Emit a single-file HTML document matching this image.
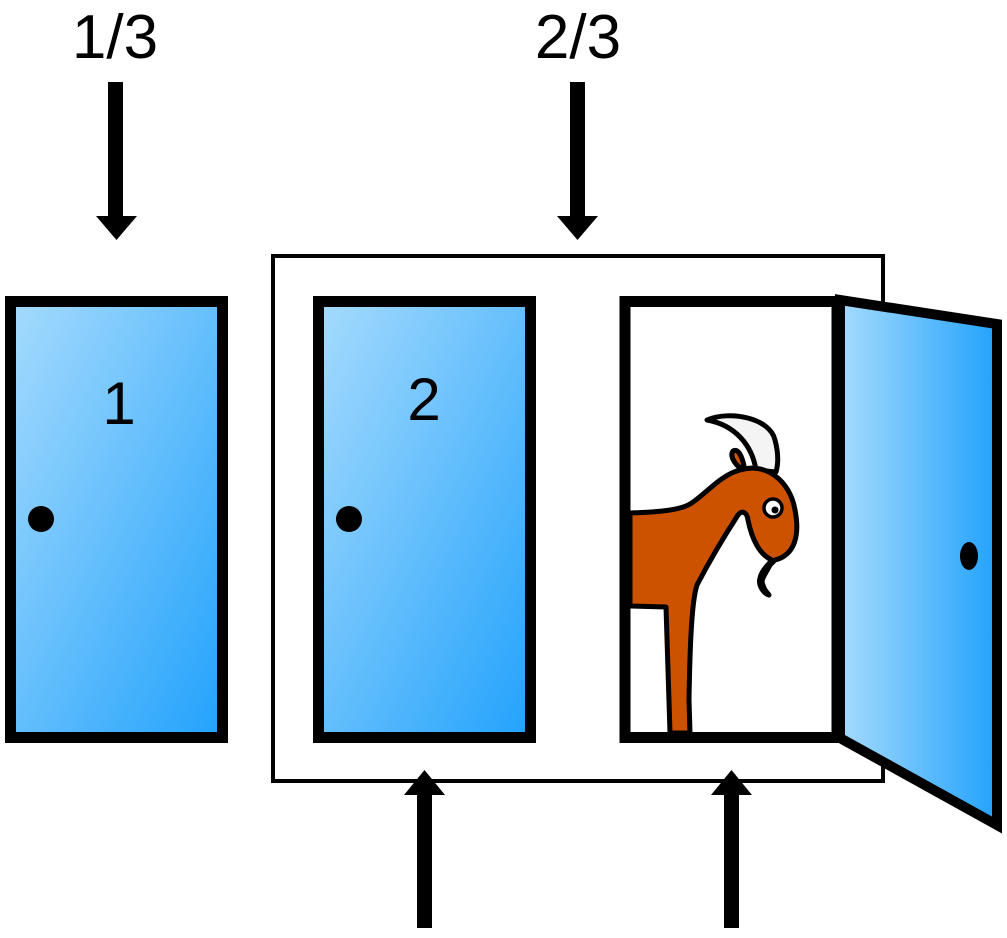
<!DOCTYPE html>
<html><head><meta charset="utf-8"><style>html,body{margin:0;padding:0;background:#fff}svg{display:block}</style></head>
<body>
<svg width="1007" height="938" viewBox="0 0 1007 938" xmlns="http://www.w3.org/2000/svg">
<defs>
<linearGradient id="g1" x1="0" y1="0" x2="1" y2="1"><stop offset="0" stop-color="#a6dbfd"/><stop offset="1" stop-color="#22a2fc"/></linearGradient>
<linearGradient id="g2" x1="0" y1="0" x2="1" y2="0"><stop offset="0" stop-color="#a6dbfd"/><stop offset="1" stop-color="#22a2fc"/></linearGradient>
</defs>
<g font-family="Liberation Sans, sans-serif" font-size="62" text-anchor="middle" fill="#000">
<text x="115" y="58">1/3</text>
<text x="578" y="58">2/3</text>
</g>
<!-- arrows -->
<g fill="#000">
<rect x="108" y="82" width="15" height="136"/><polygon points="96,216 137,216 116.5,240"/>
<rect x="570" y="82" width="15" height="136"/><polygon points="557,216 598,216 577.5,240"/>
<rect x="417" y="793" width="15" height="135"/><polygon points="404,795 445,795 424.5,770"/>
<rect x="724" y="793" width="15" height="135"/><polygon points="711,795 752,795 731.5,770"/>
</g>
<rect x="273" y="256" width="610" height="525" fill="none" stroke="#000" stroke-width="4"/>
<rect x="10.5" y="301.5" width="212" height="436" fill="url(#g1)" stroke="#000" stroke-width="11"/>
<rect x="318.5" y="301.5" width="212" height="436" fill="url(#g1)" stroke="#000" stroke-width="11"/>
<circle cx="41" cy="519" r="13"/><circle cx="349" cy="519" r="13"/>
<g font-family="Liberation Sans, sans-serif" font-size="60" text-anchor="middle" fill="#000">
<text x="119" y="424">1</text>
<text x="424" y="420">2</text>
</g>
<rect x="625" y="301.5" width="212" height="436" fill="#fff" stroke="#000" stroke-width="11"/>
<!-- goat -->
<g stroke="#000" stroke-width="5" stroke-linejoin="round" stroke-linecap="round">
<path d="M707,420 C730,410 770,418 775,440 C779,455 778,465 776,472 L756,470 C752,445 735,425 707,420 Z" fill="#f4f4f4"/>
<path d="M740,468 C733,462 730,455 733,451 C738,448 742,456 744,466 Z" fill="#cc5200"/>
<path d="M630,513 C660,512 680,510 690,504 C705,495 720,475 740,470 C765,462 790,480 795,510 C800,535 795,555 775,560 L770,565 C765,575 760,580 763,585 C764,590 767,592 769,595 C763,593 758,585 760,578 C762,570 768,565 772,560 C760,555 752,540 748,520 C747,512 742,510 738,515 C725,535 710,560 697,585 C692,600 690,640 689,700 L690,733 L670,733 L666,607 L630,606 Z" fill="#cc5200"/>
<circle cx="773" cy="508" r="9" fill="#fff" stroke-width="3.5"/>
</g>
<circle cx="775" cy="510" r="3.5" fill="#000"/>
<rect x="625" y="301.5" width="212" height="436" fill="none" stroke="#000" stroke-width="11"/>
<rect x="620" y="296" width="8" height="447" fill="#000"/>
<!-- open door -->
<polygon points="840,300 997,324 997,825 840,738" fill="url(#g2)" stroke="#000" stroke-width="10" stroke-linejoin="miter"/>
<ellipse cx="969" cy="556" rx="9" ry="14" fill="#000"/>
</svg>
</body></html>
